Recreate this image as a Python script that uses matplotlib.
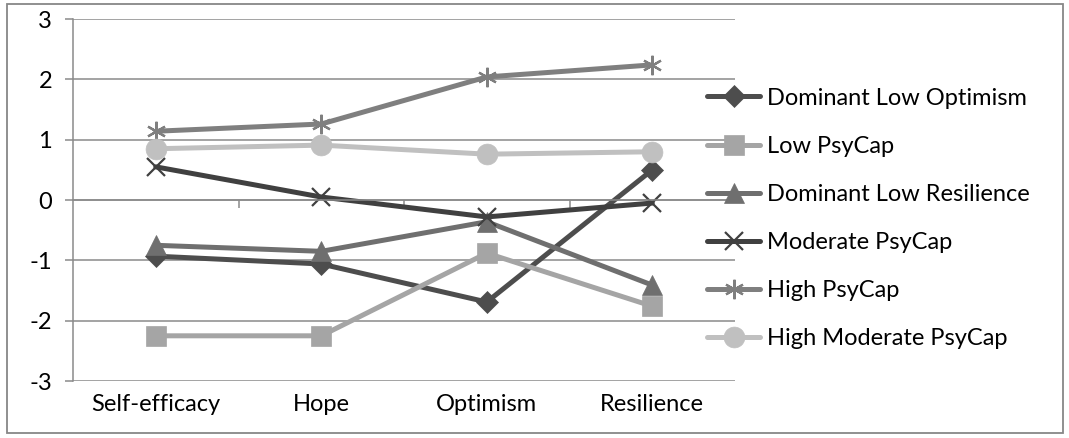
import matplotlib
matplotlib.use("Agg")
import matplotlib.pyplot as plt
from matplotlib.patches import Rectangle

plt.rcParams['font.family'] = ['Lato', 'DejaVu Sans']
plt.rcParams['axes.unicode_minus'] = False

# data
categories = ['Self-efficacy', 'Hope', 'Optimism', 'Resilience']
series_names = ['Dominant Low Optimism', 'Low PsyCap', 'Dominant Low Resilience',
                'Moderate PsyCap', 'High PsyCap', 'High Moderate PsyCap']
dom_low_optimism = [-0.93, -1.06, -1.69, 0.50]
low_psycap = [-2.25, -2.25, -0.88, -1.76]
dom_low_resilience = [-0.75, -0.85, -0.36, -1.41]
moderate_psycap = [0.55, 0.05, -0.28, -0.05]
high_psycap = [1.14, 1.26, 2.04, 2.24]
high_moderate_psycap = [0.85, 0.91, 0.76, 0.80]

values = [dom_low_optimism, low_psycap, dom_low_resilience,
          moderate_psycap, high_psycap, high_moderate_psycap]

# styles (Excel grayscale)
colors = ['#4d4d4d', '#a5a5a5', '#6f6f6f', '#404040', '#7f7f7f', '#c0c0c0']
markers = ['D', 's', '^', 'x', (6, 2, 0), 'o']
msizes = [11, 14, 14, 13, 14, 15]

grid_col = '#8a8a8a'

fig = plt.figure(figsize=(10.69, 4.38), dpi=100)
ax = fig.add_axes([0.0683, 0.130, 0.6193, 0.8266])

x = range(len(categories))
for name, vals, c, m, ms in zip(series_names, values, colors, markers, msizes):
    ax.plot(x, vals, color=c, lw=3.6, marker=m, markersize=ms,
            markeredgewidth=1.6 if m in ('x', (6, 2, 0)) else 0.5,
            markerfacecolor=c, markeredgecolor=c, label=name,
            solid_capstyle='round', clip_on=False)

ax.set_xlim(-0.5, 3.5)
ax.set_ylim(-3, 3)
ax.set_yticks(range(-3, 4))
for yv in range(-3, 4):
    ax.axhline(yv, color=grid_col, lw=1.1, zorder=0)

for s in ['top', 'right']:
    ax.spines[s].set_visible(False)
ax.spines['left'].set_color(grid_col)
ax.spines['left'].set_linewidth(1.1)
ax.spines['bottom'].set_position(('data', 0))
ax.spines['bottom'].set_color(grid_col)
ax.spines['bottom'].set_linewidth(1.1)

ax.set_xticks([0.5, 1.5, 2.5])
ax.set_xticklabels([])
ax.tick_params(axis='x', length=6, width=1.1, color=grid_col, direction='out')
ax.tick_params(axis='y', length=6, width=1.1, color=grid_col, labelsize=17, pad=9)

for i, cat in enumerate(categories):
    ax.text(i, -0.065, cat, transform=ax.get_xaxis_transform(),
            ha='center', va='center', fontsize=17)

fig.legend(*ax.get_legend_handles_labels(), loc='center left',
           bbox_to_anchor=(0.6614, 0.501), bbox_transform=fig.transFigure,
           frameon=False, fontsize=17, handlelength=2.25, handletextpad=0.3,
           labelspacing=1.15, borderpad=0, borderaxespad=0)

fig.patches.append(Rectangle((0.007, 0.011), 0.987, 0.981, transform=fig.transFigure,
                             fill=False, edgecolor='#878787', lw=1.3))

fig.savefig('out.png', dpi=100)
